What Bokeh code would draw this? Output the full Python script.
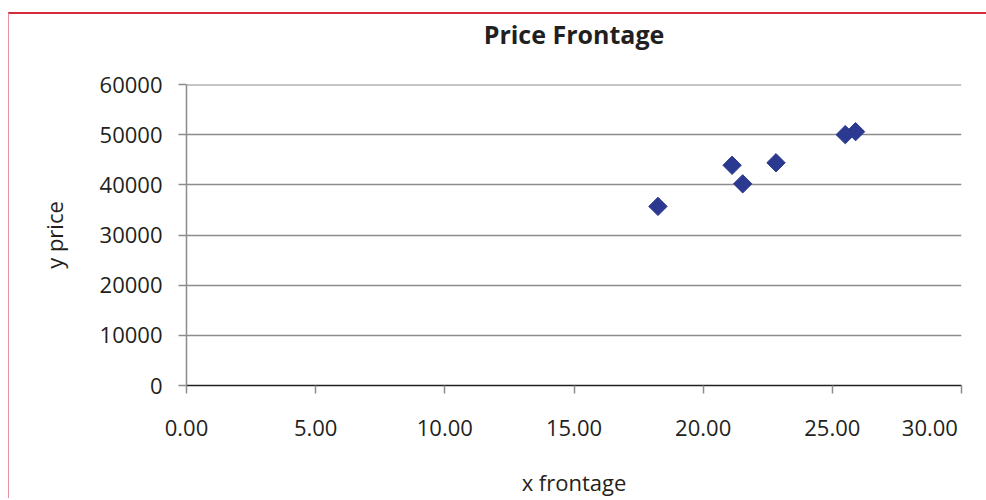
from bokeh.plotting import figure
from bokeh.models import Range1d, NumeralTickFormatter, FixedTicker, Span
from bokeh.embed import file_html
from bokeh.resources import INLINE
import numpy as np

frontage = [18.25, 21.12, 21.53, 22.82, 25.5, 25.9]
price = [35700, 43900, 40200, 44400, 50000, 50600]
x_ticks = [0, 5, 10, 15, 20, 25, 30]
y_ticks = [0, 10000, 20000, 30000, 40000, 50000, 60000]

FONT = "Open Sans"
TXT = "#231f20"
GRID = "#8c8c8c"

p = figure(width=978, height=486, output_backend="svg", toolbar_location=None,
           x_range=Range1d(0, 30), y_range=Range1d(0, 60000),
           title="Price Frontage\n", min_border_left=177, min_border_right=26,
           min_border_top=70, min_border_bottom=115)
p.margin = (12, 0, 0, 8)
p.styles = {"border-top": "2px solid #d42a3e", "border-left": "1px solid #e7909b"}
p.outline_line_color = None

p.title.align = "center"
p.title.text_font = FONT
p.title.text_font_size = "25px"
p.title.text_font_style = "bold"
p.title.text_color = TXT
p.title.offset = 0
p.title.standoff = 0

p.scatter(frontage, price, marker="square", size=13, angle=np.pi / 4,
          fill_color="#2b3990", line_color="#2b3990")

p.xgrid.visible = False
p.ygrid.grid_line_color = GRID
p.ygrid.grid_line_width = 1.5
p.add_layout(Span(location=y_ticks[-1], dimension="width",
                  line_color=GRID, line_width=2))

p.xaxis.ticker = FixedTicker(ticks=x_ticks)
p.yaxis.ticker = FixedTicker(ticks=y_ticks)
p.xaxis.formatter = NumeralTickFormatter(format="0.00")
p.yaxis.formatter = NumeralTickFormatter(format="0")
p.xaxis.major_label_overrides = {x_ticks[-1]: "30.00" + "\u00a0" * 5}

for ax in (p.xaxis[0], p.yaxis[0]):
    ax.major_label_text_font = FONT
    ax.major_label_text_font_size = "22px"
    ax.major_label_text_color = TXT
    ax.axis_label_text_font = FONT
    ax.axis_label_text_font_size = "22px"
    ax.axis_label_text_font_style = "normal"
    ax.axis_label_text_color = TXT
    ax.minor_tick_line_color = None
    ax.major_tick_in = 0
    ax.major_tick_out = 8
    ax.major_tick_line_color = GRID
    ax.major_tick_line_width = 1.5

p.xaxis.axis_label = "x frontage"
p.yaxis.axis_label = "y price"
p.xaxis.axis_line_color = TXT
p.xaxis.axis_line_width = 1.5
p.yaxis.axis_line_color = GRID
p.yaxis.axis_line_width = 1.5
p.xaxis.major_label_standoff = 18
p.yaxis.major_label_standoff = 16
p.xaxis.axis_label_standoff = 22
p.yaxis.axis_label_standoff = 28

open("out.html", "w").write(file_html(p, INLINE))
